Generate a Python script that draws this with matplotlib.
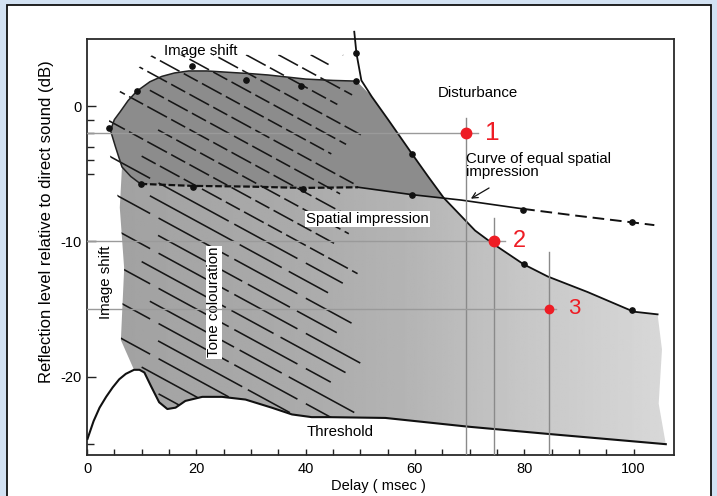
import numpy as np
import matplotlib
matplotlib.use("Agg")
import matplotlib.pyplot as plt
from matplotlib.patches import Polygon, Rectangle

plt.rcParams['font.family'] = ['Liberation Sans', 'DejaVu Sans']
plt.rcParams['axes.unicode_minus'] = False

# ---------------- data ----------------
# Threshold curve
thr_x = [0.1, 1.2, 2.3, 3.5, 4.7, 5.9, 7.1, 8.6, 9.6, 10.5, 11.7, 13.2, 14.7, 16.2, 18.0, 21.1, 24.7,
         29.0, 33.8, 37.5, 41.1, 44.2, 54.6, 69.6, 84.6, 97.4, 105.9]
thr_y = [-24.6, -23.3, -22.3, -21.5, -20.8, -20.2, -19.8, -19.5, -19.5, -19.7, -20.7, -21.9, -22.4,
         -22.3, -21.8, -21.5, -21.5, -21.7, -22.3, -22.8, -23.0, -23.0, -23.06, -23.7, -24.25,
         -24.7, -25.0]

# Disturbance curve
dist_x = [48.9, 49.3, 50.2, 52.1, 55.1, 59.5, 62.4, 65.3, 71.0, 74.0, 79.9, 84.3, 91.6, 100.0, 104.4]
dist_y = [5.5, 3.9, 1.9, 0.7, -1.0, -3.55, -5.2, -6.8, -9.2, -10.1, -11.7, -12.6, -13.75, -15.2, -15.4]
dist_mx = [49.3, 59.5, 79.9, 99.8]
dist_my = [3.9, -3.55, -11.65, -15.1]

# Curve of equal spatial impression
sp_x = [9.8, 19.4, 29.5, 39.5, 49.6, 59.5, 68.5, 79.8, 89.5, 99.8, 103.8]
sp_y = [-5.75, -5.9, -5.95, -6.05, -6.0, -6.55, -6.95, -7.6, -8.1, -8.6, -8.8]
sp_mx = [9.8, 19.4, 39.5, 59.5, 79.8, 99.8]
sp_my = [-5.75, -5.95, -6.1, -6.6, -7.65, -8.6]

# Image-shift boundary (upper blob)
blob_x = [9.8, 8.0, 6.4, 5.2, 4.3, 5.0, 6.1, 7.5, 9.1, 11.5, 13.7, 16.0, 18.6, 22.0,
          25.9, 30.0, 33.2, 40.0, 45.0, 49.3]
blob_y = [-5.75, -5.2, -4.5, -3.0, -1.8, -1.0, -0.4, 0.4, 1.1, 1.8, 2.2, 2.45, 2.6, 2.6,
          2.5, 2.4, 2.3, 2.0, 1.9, 1.85]
imsh_mx = [4.1, 9.1, 19.3, 29.1, 39.1, 49.3]
imsh_my = [-1.6, 1.1, 2.95, 1.9, 1.5, 1.85]

# Highlighted red points
pt_x = [69.3, 74.4, 84.5]
pt_y = [-2.0, -10.0, -15.0]
pt_labels = ['1', '2', '3']
guide_top = [-0.9, -8.3, -10.8]
guide_right = [71.5, 76.5, 85.8]

# ---------------- figure ----------------
W, H = 717, 496
fig = plt.figure(figsize=(W / 100, H / 100), dpi=100)
fig.patch.set_facecolor('#d3e2f3')
fig.patches.append(Rectangle((7 / W, -0.01), (711 - 7) / W, 1.01 - 5 / H, transform=fig.transFigure,
                             facecolor='white', edgecolor='#111111', linewidth=1.3, zorder=-10))

ax = fig.add_axes([87 / W, 1 - 455 / H, (674 - 87) / W, (455 - 38.5) / H])
ax.set_facecolor('white')
XMAX, YMIN, YMAX = 107.4, -25.8, 5.0

# perceptible region polygon (shaded)
dist_arr_x = np.array(dist_x)
dist_arr_y = np.array(dist_y)
sel = dist_arr_y < 1.85
region = ([(6.2, -17.3), (6.8, -12.0), (6.0, -7.5)] +
          [(x, y) for x, y in zip(blob_x[2:], blob_y[2:])] +
          list(zip(dist_arr_x[sel], dist_arr_y[sel])) +
          [(105.2, -18.0), (104.6, -22.0)] +
          [(x, y) for x, y in zip(thr_x[::-1], thr_y[::-1]) if x >= 8.6])
gx = np.linspace(0, XMAX, 300)
gval = np.interp(gx, [0, 10, 40, 60, 80, 107], [0.62, 0.64, 0.67, 0.71, 0.78, 0.85])
grad = np.tile(gval, (10, 1))
im = ax.imshow(grad, extent=[0, XMAX, YMIN, YMAX], aspect='auto', cmap='gray',
               vmin=0, vmax=1, origin='lower', zorder=1, interpolation='bilinear')
rpoly = Polygon(region, closed=True, facecolor='none', edgecolor='none', transform=ax.transData)
ax.add_patch(rpoly)
im.set_clip_path(rpoly)

# darker upper blob
sel2 = (dist_arr_y < 1.85) & (dist_arr_y > -6.9)
sp_sel = [(x, y) for x, y in zip(sp_x, sp_y) if x < 65.5][::-1]
blob = (list(zip(blob_x, blob_y)) + list(zip(dist_arr_x[sel2], dist_arr_y[sel2])) + sp_sel)
ax.add_patch(Polygon(blob, closed=True, facecolor='#8c8c8c', edgecolor='none', zorder=1.5))

# diagonal hatching (tone colouration / image shift)
hatch_clip = ([(6.2, -17.3), (6.8, -12.0), (6.0, -7.5), (5.0, -5.5), (3.5, -2.0),
               (5.0, 0.5), (8.0, 2.2), (11.0, 3.5), (12.0, 3.8), (47.0, 3.8), (56.0, 3.8),
               (56.0, -23.0)] +
              [(x, y) for x, y in zip(thr_x[::-1], thr_y[::-1]) if 8.6 <= x <= 55])
hpoly = Polygon(hatch_clip, closed=True, facecolor='none', edgecolor='none', transform=ax.transData)
ax.add_patch(hpoly)
slope = -0.22
for i, c in enumerate(np.arange(-21.0, 16.0, 1.3)):
    x0 = 0.0 if i % 2 == 0 else 10.0 + (i % 3) * 1.5
    x1 = 44.0 + (i * 2.7) % 7.0
    hx = np.array([x0, x1])
    ln, = ax.plot(hx, c + slope * hx, color='#161616', lw=1.15, zorder=2)
    if c + slope * 20 > -6:
        ln.set_dashes([10, 3, 14, 3])
    elif i % 2:
        ln.set_dashes([60, 4, 30, 5])
    else:
        ln.set_dashes([45, 6, 50, 4])
    ln.set_clip_path(hpoly)

# curves
ax.plot(thr_x, thr_y, color='#111111', lw=1.5, zorder=4)
ax.plot(dist_x, dist_y, color='#111111', lw=1.3, zorder=4, clip_on=False)
ax.plot(blob_x, blob_y, color='#222222', lw=1.1, zorder=4)
ax.plot(sp_x[:5], sp_y[:5], color='#111111', lw=1.6, zorder=4, dashes=[3, 1.2])
ax.plot(sp_x[4:8], sp_y[4:8], color='#111111', lw=1.2, zorder=4)
ax.plot(sp_x[7:], sp_y[7:], color='#111111', lw=1.4, zorder=4, dashes=[6, 3])
ax.plot(dist_mx, dist_my, 'o', color='#111111', ms=3.8, zorder=5, clip_on=False)
ax.plot(sp_mx, sp_my, 'o', color='#111111', ms=3.8, zorder=5)
ax.plot(imsh_mx, imsh_my, 'o', color='#111111', ms=3.8, zorder=5)

# guide lines and red points
for x, y, t, r in zip(pt_x, pt_y, guide_top, guide_right):
    ax.plot([0, r], [y, y], color='#9a9a9a', lw=1.0, zorder=6)
    ax.plot([x, x], [YMIN, t], color='#8a8a8a', lw=1.0, zorder=6)
msizes = [7.5, 7.5, 6.0]
fsizes = [19, 17, 16]
for x, y, lab, ms, fs in zip(pt_x, pt_y, pt_labels, msizes, fsizes):
    ax.plot([x], [y], 'o', color='#ee1c24', ms=ms, zorder=7)
    ax.annotate(lab, (x, y), xytext=(19, 0), textcoords='offset pixels', ha='left',
                va='center', color='#ee1c24', fontsize=fs, zorder=7)

# annotations
fs = 10.8
ax.text(20.9, 4.1, 'Image shift', ha='center', va='center', fontsize=fs, zorder=8)
ax.text(71.5, 1.0, 'Disturbance', ha='center', va='center', fontsize=fs, zorder=8)
ax.text(69.4, -4.4, 'Curve of equal spatial\nimpression', ha='left', va='center',
        fontsize=fs, linespacing=0.95, zorder=8)
ax.annotate('', xy=(69.8, -6.95), xytext=(74.0, -5.95),
            arrowprops=dict(arrowstyle='->', color='#111111', lw=0.9), zorder=8)
ax.text(51.3, -8.35, 'Spatial impression', ha='center', va='center', fontsize=fs, zorder=8,
        bbox=dict(boxstyle='square,pad=0.08', facecolor='white', edgecolor='none'))
ax.text(3.4, -13.0, 'Image shift', ha='center', va='center', rotation=90, fontsize=fs, zorder=8)
ax.text(23.2, -14.5, 'Tone colouration', ha='center', va='center', rotation=90, fontsize=fs,
        zorder=5.5, bbox=dict(boxstyle='square,pad=0.08', facecolor='white', edgecolor='none'))
ax.text(46.4, -24.1, 'Threshold', ha='center', va='center', fontsize=fs, zorder=8)

# axes styling
ax.set_xlim(0, XMAX)
ax.set_ylim(YMIN, YMAX)
ax.set_xticks([0, 20, 40, 60, 80, 100])
ax.set_xticks(np.arange(5, 105, 5), minor=True)
ax.set_yticks([-20, -10, 0])
ax.set_yticklabels(['-20', '-10', '0'])
ax.set_yticks([-1, -2, -3, -4, -5, -25], minor=True)
ax.tick_params(axis='both', which='both', direction='in', color='#222222', width=1.0,
               labelsize=10.5)
ax.tick_params(axis='x', which='both', length=4.5, pad=5)
ax.tick_params(axis='y', which='major', length=6.5, pad=4)
ax.tick_params(axis='y', which='minor', length=5)
for s in ax.spines.values():
    s.set_color('#2a2a2a')
    s.set_linewidth(1.3)

fig.text(47 / W, 1 - 222 / H, 'Reflection level relative to direct sound (dB)', rotation=90,
         ha='center', va='center', fontsize=12)
fig.text(378 / W, 1 - 486 / H, 'Delay ( msec )', ha='center', va='center', fontsize=10.5)

fig.savefig('out.png', dpi=100)
